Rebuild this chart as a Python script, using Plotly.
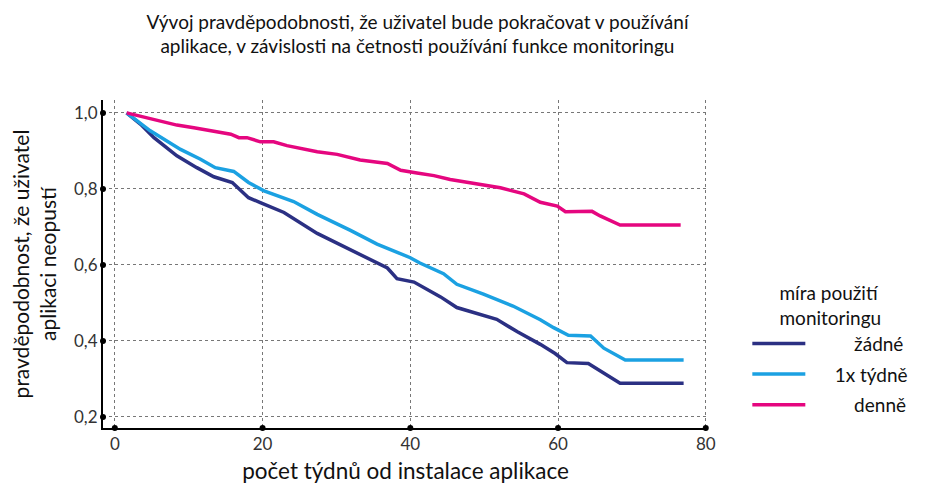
import plotly.graph_objects as go

# weeks since install and share of users still using the app
weeks_none = [1.6, 3.5, 5.3, 8.4, 11.1, 13.4, 15.9, 18.1, 19.7, 22.9, 27.4, 33.2, 36.9, 38.2, 40.5,
              44.1, 46.3, 51.7, 54.5, 57.6, 59.6, 61.2, 64.1, 68.4, 77.0]
share_none = [1.0, 0.970, 0.935, 0.887, 0.856, 0.832, 0.817, 0.777, 0.764, 0.738, 0.683, 0.626, 0.592, 0.564, 0.555,
              0.516, 0.488, 0.457, 0.424, 0.391, 0.367, 0.343, 0.341, 0.289, 0.289]

weeks_weekly = [1.6, 4.8, 8.9, 11.6, 13.6, 16.1, 18.1, 20.2, 24.2, 27.4, 31.9, 35.5, 40.0, 41.3, 44.5,
                46.3, 49.9, 53.9, 57.6, 59.4, 61.4, 64.4, 66.2, 69.1, 77.0]
share_weekly = [1.0, 0.953, 0.904, 0.878, 0.856, 0.846, 0.817, 0.795, 0.767, 0.733, 0.691, 0.655, 0.619, 0.605, 0.577,
                0.549, 0.523, 0.492, 0.456, 0.435, 0.415, 0.413, 0.381, 0.350, 0.350]

weeks_daily = [1.6, 3.9, 5.75, 8.4, 10.7, 13.4, 15.7, 16.8, 17.9, 19.7, 21.5, 23.3, 27.4, 30.1, 33.2, 36.9,
               38.7, 40.9, 43.2, 45.4, 47.7, 50.2, 52.2, 55.4, 57.6, 59.9, 61.0, 64.6, 65.7, 68.4, 76.6]
share_daily = [1.0, 0.989, 0.979, 0.968, 0.961, 0.953, 0.944, 0.935, 0.935, 0.924, 0.924, 0.914, 0.898, 0.891, 0.876, 0.867,
               0.849, 0.842, 0.835, 0.825, 0.818, 0.811, 0.803, 0.787, 0.765, 0.755, 0.740, 0.741, 0.729, 0.705, 0.705]

x_ticks = [0, 20, 40, 60, 80]
y_ticks = [0.2, 0.4, 0.6, 0.8, 1.0]
x_range = [-1.6, 80.3]
y_range = [0.171, 1.034]

font = "Lato"
nb = "\u00a0"

fig = go.Figure()

series = [
    ("žádné", nb * 9, weeks_none, share_none, "#2b3083"),
    ("1x týdně", nb * 5, weeks_weekly, share_weekly, "#1ba1e2"),
    ("denně", nb * 9, weeks_daily, share_daily, "#e5067f"),
]
for name, pad, xs, ys, color in series:
    fig.add_scatter(x=xs, y=ys, mode="lines", name=pad + name, legendgroup=name,
                    line=dict(color=color, width=3.5))

# dots at the ticks on both axes
fig.add_scatter(x=x_ticks, y=[y_range[0]] * len(x_ticks), mode="markers",
                marker=dict(color="black", size=6), showlegend=False, cliponaxis=False, hoverinfo="skip")
fig.add_scatter(x=[x_range[0]] * len(y_ticks), y=y_ticks, mode="markers",
                marker=dict(color="black", size=6), showlegend=False, cliponaxis=False, hoverinfo="skip")

fig.update_layout(
    width=918, height=477,
    margin=dict(l=95, r=218, t=92, b=57, autoexpand=False),
    paper_bgcolor="white", plot_bgcolor="white",
    font=dict(family=font, color="#111111"),
    separators=", ",
    title=dict(text="Vývoj pravděpodobnosti, že uživatel bude pokračovat v používání<br>aplikace, v závislosti na četnosti používání funkce monitoringu",
               x=0.446, xanchor="center", y=0.957, yanchor="top", font=dict(size=19)),
    legend=dict(x=1.065, xanchor="left", y=0.466, yanchor="top",
                title=dict(text="míra použití<br>monitoringu", side="top center", font=dict(size=19)),
                font=dict(size=19), tracegroupgap=3, itemwidth=53),
    showlegend=True,
)

fig.update_xaxes(range=x_range, tickvals=x_ticks, showgrid=True, gridcolor="#777777", griddash="dot",
                 gridwidth=1, zeroline=False, showline=True, linecolor="black", linewidth=2,
                 ticks="", tickfont=dict(size=17, color="#333333"), automargin=False,
                 title=dict(text=nb * 4 + "počet týdnů od instalace aplikace", font=dict(size=22.5), standoff=10))
fig.update_yaxes(range=y_range, tickvals=y_ticks, tickformat=".1f", showgrid=True, gridcolor="#777777",
                 griddash="dot", gridwidth=1, zeroline=False, showline=True, linecolor="black", linewidth=2,
                 ticks="", tickfont=dict(size=17, color="#333333"), automargin=False,
                 title=dict(text="pravděpodobnost, že uživatel<br>aplikaci neopustí", font=dict(size=21), standoff=12))

fig.write_html("out.html")
